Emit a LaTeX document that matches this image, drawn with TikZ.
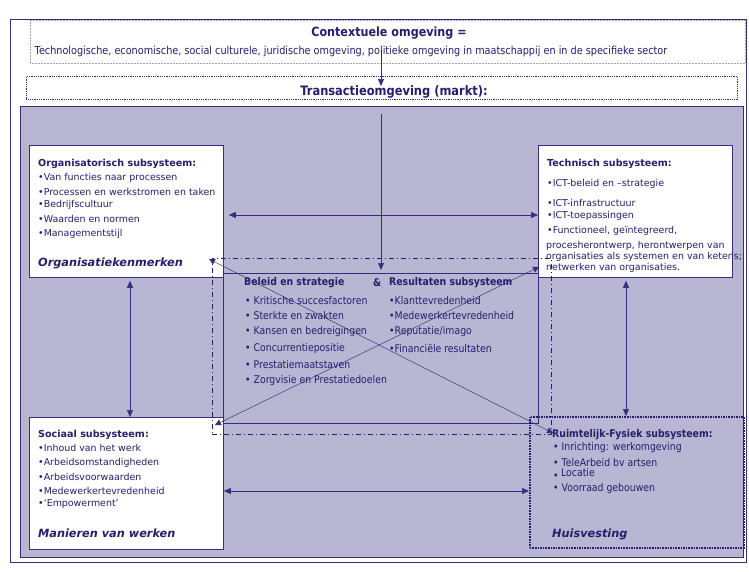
\documentclass[tikz,border=0pt]{standalone}
\usepackage{fontspec}
\setmainfont{DejaVu Sans}
\newfontfamily\tah[FakeStretch=0.88]{DejaVu Sans}
\usetikzlibrary{arrows.meta}
\definecolor{navy}{RGB}{35,31,107}
\definecolor{lav}{RGB}{184,182,211}
\definecolor{lnavy}{RGB}{52,47,122}
\begin{document}
\begin{tikzpicture}[x=1pt,y=-1pt,
  txt/.style={inner sep=0pt, anchor=west, text=navy, font=\fontsize{9.45}{11}\selectfont},
  txtb/.style={txt, font=\bfseries\fontsize{9.6}{11}\selectfont},
  txtbi/.style={txt, font=\bfseries\itshape\fontsize{11.3}{13}\selectfont},
  ctx/.style={inner sep=0pt, anchor=west, text=navy, font=\tah\fontsize{10.6}{12}\selectfont},
  ctxb/.style={ctx, font=\tah\bfseries\fontsize{10.6}{12}\selectfont},
  frame/.style={inner sep=0pt, anchor=north west},
  wbox/.style={frame, draw=lnavy, fill=white, line width=0.8pt},
  arr/.style={lnavy, line width=0.6pt, {Triangle[length=7pt,width=6pt]}-{Triangle[length=7pt,width=6pt]}},
  diag/.style={lnavy, line width=0.45pt, {Triangle[length=6pt,width=6pt]}-{Triangle[length=6pt,width=6pt]}},
]
\useasboundingbox (0,0) rectangle (749,571);
% frames
\node[frame, draw=lnavy, line width=0.6pt, minimum width=736pt, minimum height=543pt] (outer) at (10,19) {};
\node[frame, draw=gray!70, densely dotted, line width=0.5pt, minimum width=715pt, minimum height=43pt] (ctxbox) at (30,20) {};
\node[frame, draw=lnavy, densely dotted, line width=0.8pt, minimum width=711pt, minimum height=23pt] (trbox) at (26,76) {};
\node[frame, draw=lnavy, fill=lav, line width=1pt, minimum width=723pt, minimum height=451pt] (purple) at (20,106) {};
\node[frame, draw=lnavy, line width=0.8pt, minimum width=315pt, minimum height=150pt] (center) at (223,273) {};
% white boxes
\node[wbox, minimum width=194pt, minimum height=132pt] (org) at (29,145) {};
\node[wbox, minimum width=194pt, minimum height=132pt] (tech) at (538,145) {};
\node[wbox, minimum width=194pt, minimum height=132pt] (soc) at (29,417) {};
\node[frame, draw=navy, line width=1.6pt, densely dotted, minimum width=214pt, minimum height=131pt] (ruim) at (529,416) {};
% dash-dot rectangle
\node[frame, draw=navy, line width=0.8pt, dash pattern=on 5pt off 3pt on 1pt off 3pt, minimum width=339pt, minimum height=176pt] (dd) at (212,258) {};
% coordinates
\coordinate (ca) at (381,50);
\coordinate (cb) at (381,86);
\coordinate (cc) at (381,114);
\coordinate (h1) at (0,215);
\coordinate (h2) at (0,491);
\coordinate (v1) at (130,0);
\coordinate (v2) at (626,0);
\coordinate (d1) at (209,259);
\coordinate (d2) at (553,433);
\coordinate (d3) at (215,425);
\coordinate (d4) at (539,267);
% arrows
\draw[lnavy, line width=0.6pt, -{Triangle[length=7pt,width=6pt]}] (ca) -- (cb);
\draw[lnavy, line width=0.6pt, -{Triangle[length=7pt,width=6pt]}] (cc) -- ([yshift=3pt]center.north -| cc);
\draw[arr, shorten <=5pt] (org.east |- h1) -- (tech.west |- h1);
\draw[arr] (soc.east |- h2) -- (ruim.west |- h2);
\draw[arr, shorten <=3pt] (org.south -| v1) -- (soc.north -| v1);
\draw[arr, shorten <=3pt] (tech.south -| v2) -- (ruim.north -| v2);
\draw[diag] (d1) -- (d2);
\draw[diag] (d3) -- (d4);
% top texts
\node[inner sep=0pt, text=navy, font=\tah\bfseries\fontsize{12.7}{14}\selectfont] (t1) at (389,33) {Contextuele omgeving =};
\node[ctx, anchor=center, font=\tah\fontsize{11}{12}\selectfont] (t2) at (351,51) {Technologische, economische, social culturele, juridische omgeving, politieke omgeving in maatschappij en in de specifieke sector};
\node[inner sep=0pt, text=navy, font=\tah\bfseries\fontsize{13}{15}\selectfont] (t3) at (394,92) {Transactieomgeving (markt):};
% org
\node[txtb] (o0) at (38,164) {Organisatorisch subsysteem:};
\node[txt] (o1) at (38,178) {•Van functies naar processen};
\node[txt] (o2) at (38,192) {•Processen en werkstromen en taken};
\node[txt] (o3) at (38,205) {•Bedrijfscultuur};
\node[txt] (o4) at (38,219) {•Waarden en normen};
\node[txt] (o5) at (38,234) {•Managementstijl};
\node[txtbi] (o6) at (38,263) {Organisatiekenmerken};
% tech
\node[txtb] (e0) at (547,164) {Technisch subsysteem:};
\node[txt] (e1) at (547,184) {•ICT-beleid en –strategie};
\node[txt] (e2) at (547,203) {•ICT-infrastructuur};
\node[txt] (e3) at (547,216) {•ICT-toepassingen};
\node[txt] (e4) at (547,231) {•Functioneel, geïntegreerd,};
\node[txt] (e5) at (546,246) {procesherontwerp, herontwerpen van};
\node[txt] (e6) at (546,257) {organisaties als systemen en van ketens;};
\node[txt] (e7) at (546,268) {netwerken van organisaties.};
% center
\node[ctxb] (c0) at (244,283) {Beleid en strategie};
\node[ctxb] (c0b) at (373,283) {\&};
\node[ctxb] (r0) at (389,283) {Resultaten subsysteem};
\node[ctx] (c1) at (245,301) {• Kritische succesfactoren};
\node[ctx] (c2) at (245,316) {• Sterkte en zwakten};
\node[ctx] (c3) at (245,332) {• Kansen en bedreigingen};
\node[ctx] (c4) at (245,349) {• Concurrentiepositie};
\node[ctx] (c5) at (245,365) {• Prestatiemaatstaven};
\node[ctx] (c6) at (245,381) {• Zorgvisie en Prestatiedoelen};
\node[ctx] (r1) at (389,301) {•Klanttevredenheid};
\node[ctx] (r2) at (389,316) {•Medewerkertevredenheid};
\node[ctx] (r3) at (389,332) {•Reputatie/imago};
\node[ctx] (r4) at (389,349) {•Financiële resultaten};
% sociaal
\node[txtb] (s0) at (38,435) {Sociaal subsysteem:};
\node[txt] (s1) at (38,448) {•Inhoud van het werk};
\node[txt] (s2) at (38,463) {•Arbeidsomstandigheden};
\node[txt] (s3) at (38,477) {•Arbeidsvoorwaarden};
\node[txt] (s4) at (38,491) {•Medewerkertevredenheid};
\node[txt] (s5) at (38,504) {•‘Empowerment’};
\node[txtbi] (s6) at (38,533) {Manieren van werken};
% ruimtelijk
\node[ctxb] (u0) at (552,435) {Ruimtelijk-Fysiek subsysteem:};
\node[ctx] (u1) at (553,448) {• Inrichting: werkomgeving};
\node[ctx] (u2) at (553,463) {• TeleArbeid bv artsen};
\node[ctx] (u3b) at (553,477) {•};
\node[ctx] (u3) at (561,473) {Locatie};
\node[ctx] (u4) at (553,489) {• Voorraad gebouwen};
\node[txtbi] (u5) at (552,534) {Huisvesting};
\end{tikzpicture}
\end{document}
